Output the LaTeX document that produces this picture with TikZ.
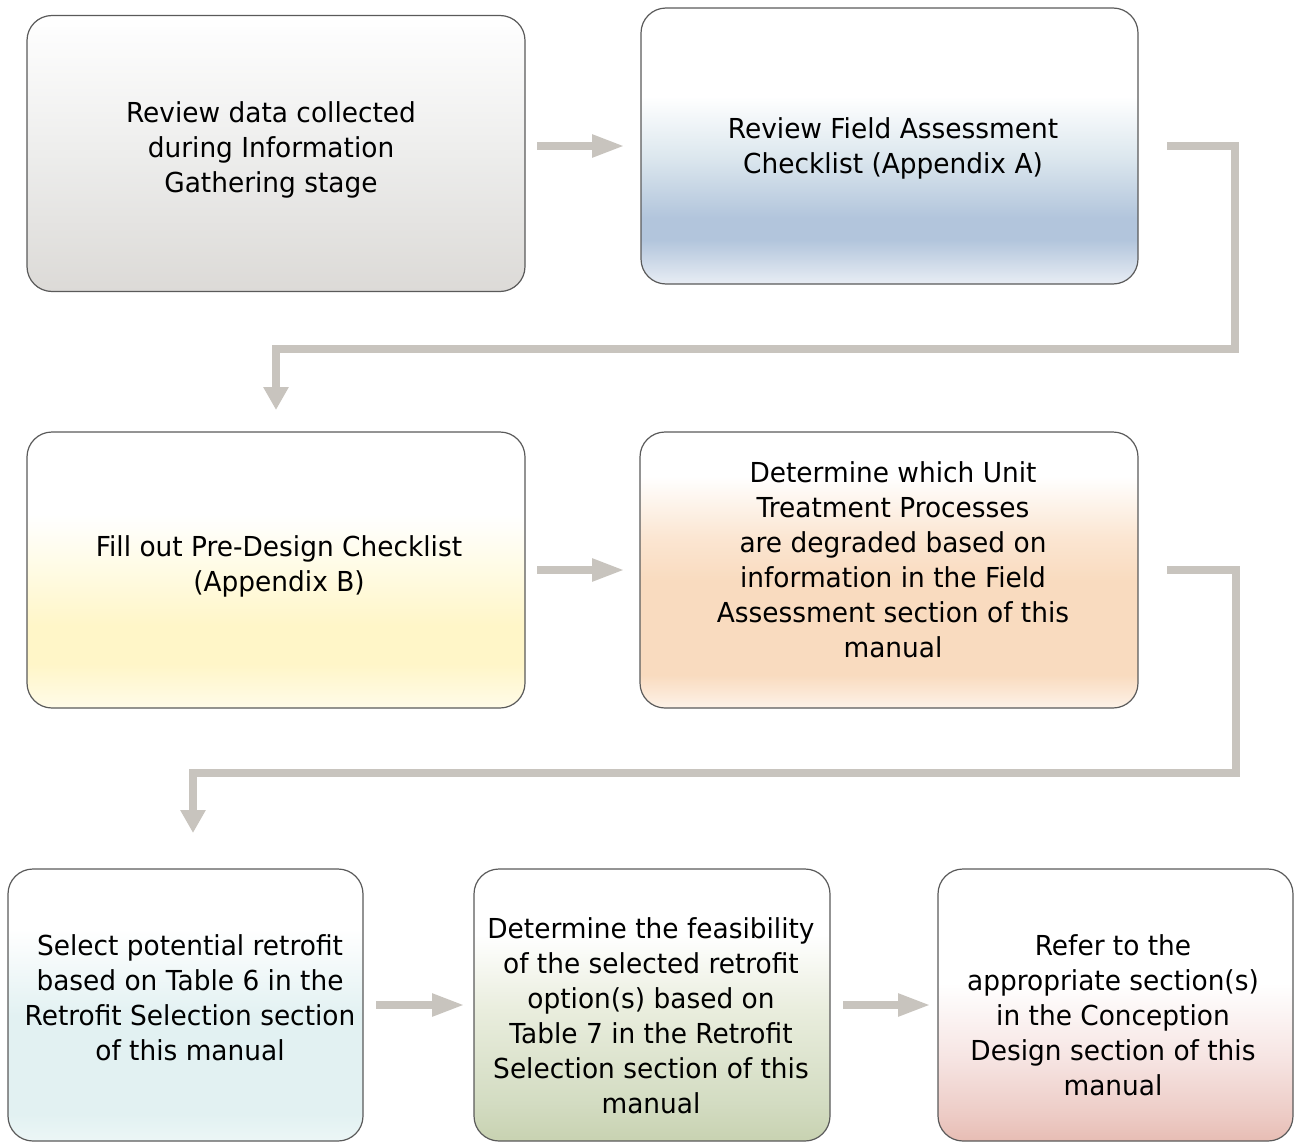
\documentclass[tikz,border=0pt]{standalone}
\usepackage{fontspec}
\setmainfont[FakeStretch=0.96]{DejaVu Sans}
\usetikzlibrary{arrows.meta}
\definecolor{arrowgray}{HTML}{C8C4BE}
\definecolor{boxline}{HTML}{5A5A5A}
\definecolor{gA}{HTML}{DCDAD7}
\definecolor{gB}{HTML}{EDEDEC}
\definecolor{bA}{HTML}{E8EDF4}
\definecolor{bB}{HTML}{B2C5DC}
\definecolor{bC}{HTML}{DCE7EE}
\definecolor{yA}{HTML}{FFFBE8}
\definecolor{yB}{HTML}{FFF6C8}
\definecolor{yC}{HTML}{FFFBE4}
\definecolor{oA}{HTML}{FDF2E8}
\definecolor{oB}{HTML}{F9DBBF}
\definecolor{oC}{HTML}{FBE6D2}
\definecolor{cA}{HTML}{ECF6F6}
\definecolor{cB}{HTML}{E2F1F2}
\definecolor{grA}{HTML}{C8D2B1}
\definecolor{grB}{HTML}{D3DCC2}
\definecolor{grC}{HTML}{E9EDDD}
\definecolor{pA}{HTML}{E7BDB4}
\definecolor{pB}{HTML}{EDCCC6}
\definecolor{pC}{HTML}{F6E4E2}
\pgfdeclareverticalshading{shgray}{100bp}{color(0bp)=(gA); color(25bp)=(gA); color(50bp)=(gB); color(75bp)=(white); color(100bp)=(white)}
\pgfdeclareverticalshading{shblue}{100bp}{color(0bp)=(bA); color(25bp)=(bA); color(33bp)=(bB); color(37bp)=(bB); color(48bp)=(bC); color(59bp)=(white); color(100bp)=(white)}
\pgfdeclareverticalshading{shyellow}{100bp}{color(0bp)=(yA); color(25bp)=(yA); color(33bp)=(yB); color(40bp)=(yB); color(50bp)=(yC); color(60bp)=(white); color(100bp)=(white)}
\pgfdeclareverticalshading{shorange}{100bp}{color(0bp)=(oA); color(25bp)=(oA); color(31bp)=(oB); color(48bp)=(oB); color(56bp)=(oC); color(67bp)=(white); color(100bp)=(white)}
\pgfdeclareverticalshading{shcyan}{100bp}{color(0bp)=(cA); color(25bp)=(cA); color(30bp)=(cB); color(48bp)=(cB); color(64bp)=(white); color(100bp)=(white)}
\pgfdeclareverticalshading{shgreen}{100bp}{color(0bp)=(grA); color(25bp)=(grA); color(32bp)=(grB); color(49bp)=(grC); color(63bp)=(white); color(100bp)=(white)}
\pgfdeclareverticalshading{shpink}{100bp}{color(0bp)=(pA); color(25bp)=(pA); color(30bp)=(pB); color(40bp)=(pC); color(54bp)=(white); color(100bp)=(white)}
\tikzset{
  box/.style={draw=boxline, line width=1.2pt, rounded corners=25pt, inner sep=0pt, outer sep=0pt, anchor=center},
  widebox/.style={box, minimum width=498pt, minimum height=276pt},
  narrowbox/.style={box, minimum width=355pt, minimum height=272pt},
  txt/.style={font=\fontsize{27.5}{35}\selectfont, align=center, anchor=north, inner sep=0pt},
  flow/.style={draw=arrowgray, line width=8pt, line join=miter},
  harrow/.style={flow, -{Triangle[length=33pt,width=21pt]}},
  varrow/.style={flow, -{Triangle[length=23pt,width=24pt]}}
}
\begin{document}
\begin{tikzpicture}[x=1pt,y=-1pt]
\useasboundingbox (0,0) rectangle (1294,1143);
% boxes
\node[widebox, shading=shgray] (b1) at (276,153.5) {};
\node[widebox, shading=shblue, minimum width=497pt] (b2) at (889.5,146) {};
\node[widebox, shading=shyellow] (b3) at (276,570) {};
\node[widebox, shading=shorange] (b4) at (889,570) {};
\node[narrowbox, shading=shcyan] (b5) at (185.5,1005) {};
\node[narrowbox, shading=shgreen, minimum width=356pt] (b6) at (652,1005) {};
\node[narrowbox, shading=shpink] (b7) at (1115.5,1005) {};
% texts
\node[txt] (t1) at (271,101) {Review data collected\\during Information\\Gathering stage};
\node[txt] (t2) at (893,117) {Review Field Assessment\\Checklist (Appendix A)};
\node[txt] (t3) at (279,535) {Fill out Pre-Design Checklist\\(Appendix B)};
\node[txt] (t4) at (893,461) {Determine which Unit\\Treatment Processes\\are degraded based on\\information in the Field\\Assessment section of this\\manual};
\node[txt] (t5) at (190,934) {Select potential retrofit\\based on Table 6 in the\\Retrofit Selection section\\of this manual};
\node[txt] (t6) at (651,917) {Determine the feasibility\\of the selected retrofit\\option(s) based on\\Table 7 in the Retrofit\\Selection section of this\\manual};
\node[txt] (t7) at (1113,934) {Refer to the\\appropriate section(s)\\in the Conception\\Design section of this\\manual};
% corner points of the elbow connectors
\coordinate (c1) at (1235,348.5);
\coordinate (c2) at (1236,773);
\coordinate (e2) at (193,869);
% connectors
\draw[harrow, shorten <=12pt, shorten >=16pt] (b1.east |- b2.west) -- (b2.west);
\draw[varrow, shorten <=29pt, shorten >=22pt] (b2.east) -| (c1) -| (b3.north);
\draw[harrow, shorten <=12pt, shorten >=15pt] (b3.east) -- (b4.west);
\draw[varrow, shorten <=29pt, shorten >=36pt] (b4.east) -| (c2) -| (e2);
\draw[harrow, shorten <=13pt, shorten >=9pt] (b5.east) -- (b6.west);
\draw[harrow, shorten <=13pt, shorten >=7pt] (b6.east) -- (b7.west);
\end{tikzpicture}
\end{document}
